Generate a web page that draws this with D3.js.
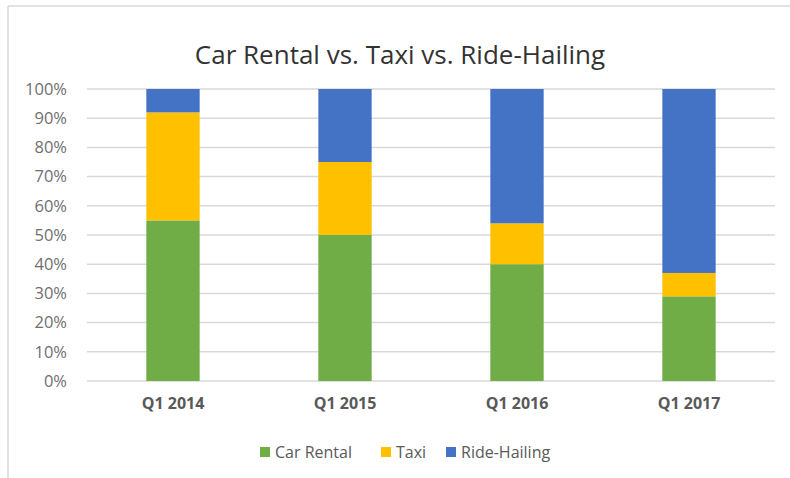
<!DOCTYPE html>
<html>
<head>
<meta charset="utf-8">
<script src="https://cdn.jsdelivr.net/npm/d3@7"></script>
<style>
  body { margin: 0; background: #fff; }
  text { font-family: "Open Sans", sans-serif; }
</style>
</head>
<body>
<div id="chart"></div>
<script>
// quarters on the x axis
const quarters = ['Q1 2014', 'Q1 2015', 'Q1 2016', 'Q1 2017'];
// share of each mode (percent)
const carRental = [55, 50, 40, 29];
const taxi = [37, 25, 14, 8];
const rideHailing = [8, 25, 46, 63];
const seriesNames = ['Car Rental', 'Taxi', 'Ride-Hailing'];
const yTicks = [0, 10, 20, 30, 40, 50, 60, 70, 80, 90, 100];

const width = 790, height = 478;
const margin = { top: 89, right: 15, bottom: 97, left: 87 };

const color = d3.scaleOrdinal()
    .domain(seriesNames)
    .range(['#70AD47', '#FFC000', '#4472C4']);

const rows = quarters.map((q, i) => ({
    quarter: q,
    'Car Rental': carRental[i],
    'Taxi': taxi[i],
    'Ride-Hailing': rideHailing[i]
}));
const stacked = d3.stack().keys(seriesNames)(rows);

const svg = d3.select('#chart').append('svg')
    .attr('width', width)
    .attr('height', height);

// frame lines (top and left only visible)
svg.append('line').attr('x1', 8).attr('x2', width).attr('y1', 6).attr('y2', 6)
    .attr('stroke', '#D9D9D9').attr('stroke-width', 1.5);
svg.append('line').attr('x1', 8).attr('x2', 8).attr('y1', 6).attr('y2', height)
    .attr('stroke', '#D9D9D9').attr('stroke-width', 1.5);

const x = d3.scaleBand()
    .domain(quarters)
    .range([margin.left, width - margin.right])
    .paddingInner(0.69)
    .paddingOuter(0.345);

const y = d3.scaleLinear()
    .domain([0, 100])
    .range([height - margin.bottom, margin.top]);

// gridlines
svg.append('g')
    .selectAll('line')
    .data(yTicks)
    .join('line')
    .attr('x1', margin.left)
    .attr('x2', width - margin.right)
    .attr('y1', d => y(d))
    .attr('y2', d => y(d))
    .attr('stroke', '#D9D9D9')
    .attr('stroke-width', 1.5);

// y axis labels
const yAxis = d3.axisLeft(y).tickValues(yTicks).tickFormat(d => d + '%').tickSize(0).tickPadding(20);
svg.append('g')
    .attr('transform', `translate(${margin.left},0)`)
    .call(yAxis)
    .call(g => g.select('.domain').remove())
    .call(g => g.selectAll('text')
        .attr('fill', '#6f6f6f')
        .style('font-family', '"Open Sans", sans-serif')
        .style('font-size', '16.5px'));

// bars
svg.append('g')
    .selectAll('g')
    .data(stacked)
    .join('g')
    .attr('fill', d => color(d.key))
    .selectAll('rect')
    .data(d => d)
    .join('rect')
    .attr('x', d => x(d.data.quarter))
    .attr('width', x.bandwidth())
    .attr('y', d => y(d[1]))
    .attr('height', d => y(d[0]) - y(d[1]));

// x axis labels
const xAxis = d3.axisBottom(x).tickSize(0).tickPadding(17);
svg.append('g')
    .attr('transform', `translate(0,${height - margin.bottom})`)
    .call(xAxis)
    .call(g => g.select('.domain').remove())
    .call(g => g.selectAll('text')
        .attr('fill', '#595959')
        .style('font-family', '"Open Sans", sans-serif')
        .style('font-weight', 'bold')
        .style('font-size', '16px'));

// title
svg.append('text')
    .attr('x', 400)
    .attr('y', 64)
    .attr('text-anchor', 'middle')
    .attr('fill', '#333')
    .style('font-size', '26px')
    .text('Car Rental vs. Taxi vs. Ride-Hailing');

// legend
const legendX = [260, 381, 446];
const legend = svg.append('g')
    .selectAll('g')
    .data(seriesNames)
    .join('g')
    .attr('transform', (d, i) => `translate(${legendX[i]},452)`);
legend.append('rect')
    .attr('x', 0).attr('y', -5)
    .attr('width', 10).attr('height', 10)
    .attr('fill', d => color(d));
legend.append('text')
    .attr('x', 15)
    .attr('y', 6)
    .attr('fill', '#595959')
    .style('font-size', '16px')
    .text(d => d);
</script>
</body>
</html>
